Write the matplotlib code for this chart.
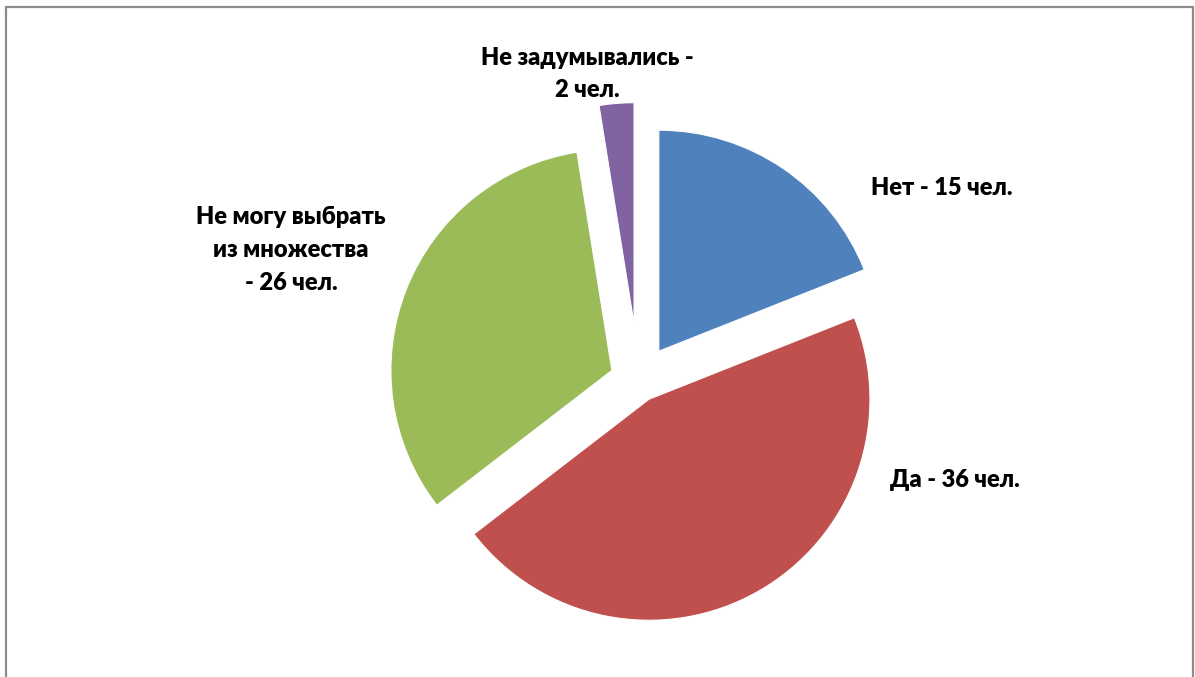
import matplotlib
matplotlib.use("Agg")
import matplotlib.pyplot as plt
from matplotlib.patches import Rectangle

categories = ["Нет", "Да", "Не могу выбрать из множества", "Не задумывались"]
values = [15, 36, 26, 2]
label_texts = ["Нет - 15 чел.", "Да - 36 чел.",
               "Не могу выбрать\nиз множества\n- 26 чел.",
               "Не задумывались -\n2 чел."]
colors = ["#4F81BD", "#C0504D", "#9BBB59", "#8064A2"]
explode_frac = [0.163, 0.095, 0.13, 0.26]

W, H = 1195, 677
fig = plt.figure(figsize=(W / 100, H / 100), dpi=100)
ax = fig.add_axes([0, 0, 1, 1])

cx, cy, r = 638.6, H - 381, 221
ax.pie(values, colors=colors, explode=[e * r for e in explode_frac],
       startangle=90, counterclock=False, center=(cx, cy), radius=r,
       frame=True, wedgeprops=dict(edgecolor="white", linewidth=0.8))
ax.set_xlim(0, W)
ax.set_ylim(0, H)
ax.set_aspect("equal")
ax.axis("off")

label_pos = [(942, H - 188), (955, H - 480), (291, H - 250), (587, H - 74)]
for txt, (x, y) in zip(label_texts, label_pos):
    ax.text(x, y, txt, ha="center", va="center", fontsize=17,
            fontweight="heavy", family=["Lato", "DejaVu Sans"],
            linespacing=1.6, color="black")

fig.patches.append(Rectangle((5.5 / W, -0.05), (1193 - 5.5) / W, (H - 6.5) / H + 0.05,
                             transform=fig.transFigure, fill=False,
                             edgecolor="#8c8c8c", linewidth=1.6))

fig.savefig("out.png", dpi=100)
